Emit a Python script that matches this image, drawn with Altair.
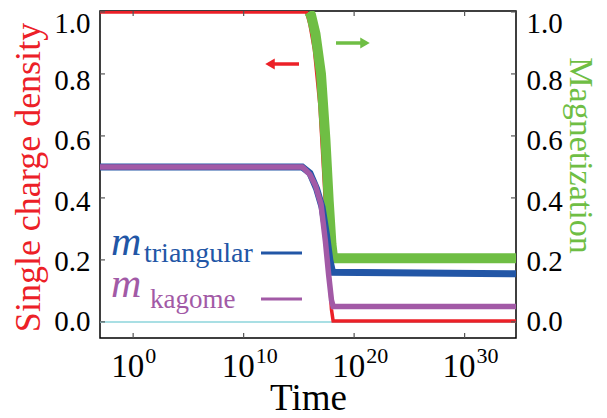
import altair as alt
import pandas as pd

SERIF = "Liberation Serif"
RED = "#ec2027"
GREEN = "#6fbe44"
BLUE = "#2256a6"
PURPLE = "#a25aa6"
CYAN = "#a9dfe4"

# time exponents (log10 of time) and values
red_exp = [-3, 15.7, 16.0, 16.4, 16.9, 17.3, 17.65, 17.95, 18.1, 34.65]
red_val = [1.0, 1.0, 0.96, 0.88, 0.70, 0.45, 0.20, 0.04, 0.003, 0.003]

cyan_exp = [-3, 18.1, 34.65]
cyan_val = [0.0, 0.0, 0.0]

green_exp = [15.9, 16.1, 16.5, 17.0, 17.4, 17.7, 17.95, 18.1, 34.65]
green_val = [1.0, 0.99, 0.93, 0.80, 0.59, 0.39, 0.25, 0.205, 0.205]

blue_exp = [-3, 15.3, 16.0, 16.6, 17.1, 17.5, 17.8, 18.05, 34.65]
blue_val = [0.5, 0.5, 0.48, 0.43, 0.37, 0.28, 0.20, 0.16, 0.155]

purple_exp = [-3, 15.3, 15.6, 16.0, 16.5, 17.0, 17.4, 17.7, 17.95, 18.1, 34.65]
purple_val = [0.5, 0.5, 0.49, 0.475, 0.44, 0.38, 0.26, 0.15, 0.07, 0.05, 0.05]

xtick_exp = [0, 10, 20, 30]
ytick_vals = [0.0, 0.2, 0.4, 0.6, 0.8, 1.0]

W, H = 416, 327


def frame(exps, vals):
    return pd.DataFrame({"t": [10.0 ** e for e in exps], "v": vals})


xscale = alt.Scale(type="log", domain=[10.0 ** -3, 10.0 ** 34.65], nice=False)
yscale = alt.Scale(domain=[-0.052, 1.003], nice=False, zero=False)

x_axis = alt.Axis(title="Time", labels=False, ticks=False, grid=False, domain=False,
                  titleFont=SERIF, titleFontSize=37, titleFontWeight="normal",
                  titleColor="black", titleY=71, titleBaseline="alphabetic")

label_off = {"condition": [{"test": "datum.value > 0.9", "value": 12},
                           {"test": "datum.value > 0.7", "value": 7},
                           {"test": "datum.value > 0.5", "value": 5},
                           {"test": "datum.value > 0.3", "value": 4},
                           {"test": "datum.value > 0.1", "value": 2}],
             "value": 0}

left_axis = alt.Axis(title="Single charge density", values=ytick_vals, format=".1f",
                     labelFont=SERIF, labelFontSize=29, labelColor="black",
                     labelPadding=10, labelFlush=False, labelOverlap=False,
                     labelOffset=label_off,
                     ticks=False, domain=False, grid=False,
                     titleFont=SERIF, titleFontSize=36, titleFontWeight="normal",
                     titleColor=RED, titleAngle=270, titleX=-72, titleY=166,
                     titleAlign="center", titleBaseline="middle")

right_axis = alt.Axis(title="Magnetization", values=ytick_vals, format=".1f",
                      labelFont=SERIF, labelFontSize=29, labelColor="black",
                      labelPadding=10, labelFlush=False, labelOverlap=False,
                      labelOffset=label_off,
                      ticks=False, domain=False, grid=False, orient="right",
                      titleFont=SERIF, titleFontSize=34, titleFontWeight="normal",
                      titleColor=GREEN, titleAngle=90, titleX=63, titleY=144,
                      titleAlign="center", titleBaseline="middle")


def series(exps, vals, color, width, axis):
    return alt.Chart(frame(exps, vals)).mark_line(
        color=color, strokeWidth=width, clip=True, strokeCap="butt"
    ).encode(
        x=alt.X("t:Q", scale=xscale, axis=x_axis),
        y=alt.Y("v:Q", scale=yscale, axis=axis),
        order=alt.Order("t:Q"),
    )


cyan = series(cyan_exp, cyan_val, CYAN, 2, left_axis)
red = series(red_exp, red_val, RED, 3.5, left_axis)

# inward ticks
xt = pd.DataFrame({"t": [10.0 ** e for e in xtick_exp]})
xt_bottom = alt.Chart(xt).mark_rule(color="#555", strokeWidth=1.2).encode(
    x=alt.X("t:Q", scale=xscale, axis=x_axis), y=alt.value(H), y2=alt.value(H - 5))
xt_top = alt.Chart(xt).mark_rule(color="#555", strokeWidth=1.2).encode(
    x=alt.X("t:Q", scale=xscale, axis=x_axis), y=alt.value(0), y2=alt.value(5))
yt = pd.DataFrame({"v": ytick_vals})
yt_left = alt.Chart(yt).mark_rule(color="#555", strokeWidth=1.2).encode(
    y=alt.Y("v:Q", scale=yscale, axis=left_axis), x=alt.value(0), x2=alt.value(5))
yt_right = alt.Chart(yt).mark_rule(color="#555", strokeWidth=1.2).encode(
    y=alt.Y("v:Q", scale=yscale, axis=left_axis), x=alt.value(W - 5), x2=alt.value(W))

# tick labels 10^n
xl = pd.DataFrame({"t": [10.0 ** e for e in xtick_exp],
                   "base": ["10"] * len(xtick_exp),
                   "sup": [str(e) for e in xtick_exp]})
xl_base = alt.Chart(xl).mark_text(font=SERIF, fontSize=33, align="right",
                                  baseline="alphabetic", dx=11, color="black").encode(
    x=alt.X("t:Q", scale=xscale, axis=x_axis), y=alt.value(H + 39), text="base:N")
xl_sup = alt.Chart(xl).mark_text(font=SERIF, fontSize=22, align="left",
                                 baseline="alphabetic", dx=12, color="black").encode(
    x=alt.X("t:Q", scale=xscale, axis=x_axis), y=alt.value(H + 25), text="sup:N")

left_group = alt.layer(cyan, red, xt_bottom, xt_top, yt_left, yt_right, xl_base, xl_sup)

green = series(green_exp, green_val, GREEN, 10, right_axis)
blue = series(blue_exp, blue_val, BLUE, 7, right_axis)
purple = series(purple_exp, purple_val, PURPLE, 5.5, right_axis)

one = pd.DataFrame({"k": [0]})


def txt(s, x, y, size, color, italic=False):
    return alt.Chart(one).mark_text(text=s, font=SERIF, fontSize=size, color=color,
                                    fontStyle="italic" if italic else "normal",
                                    align="left", baseline="alphabetic").encode(
        x=alt.value(x), y=alt.value(y))


def seg(x1, x2, y, color, w):
    return alt.Chart(one).mark_rule(color=color, strokeWidth=w).encode(
        x=alt.value(x1), x2=alt.value(x2), y=alt.value(y))


def head(x, y, shape, color):
    return alt.Chart(one).mark_point(shape=shape, filled=True, color=color, size=120,
                                     opacity=1).encode(x=alt.value(x), y=alt.value(y))


legend = [
    txt("m", 11, 244, 42, BLUE, italic=True),
    txt("triangular", 44, 251, 28, BLUE),
    seg(161, 202, 242, BLUE, 3),
    txt("m", 11, 286, 42, PURPLE, italic=True),
    txt("kagome", 50, 297, 27, PURPLE),
    seg(161, 202, 288, PURPLE, 3),
    seg(172, 199, 53, RED, 3.5),
    head(170, 53, "triangle-left", RED),
    seg(236, 262, 32, GREEN, 3.5),
    head(265, 32, "triangle-right", GREEN),
]

right_group = alt.layer(green, blue, purple, *legend)

chart = alt.layer(left_group, right_group).resolve_scale(y="independent").properties(
    width=W, height=H,
    autosize=alt.AutoSizeParams(type="none"),
    padding={"left": 92, "top": 3, "right": 83, "bottom": 79},
    background="white",
).configure_view(stroke="black", strokeWidth=1.5)

chart.save("out.html", embed_options={"renderer": "svg", "actions": False})
